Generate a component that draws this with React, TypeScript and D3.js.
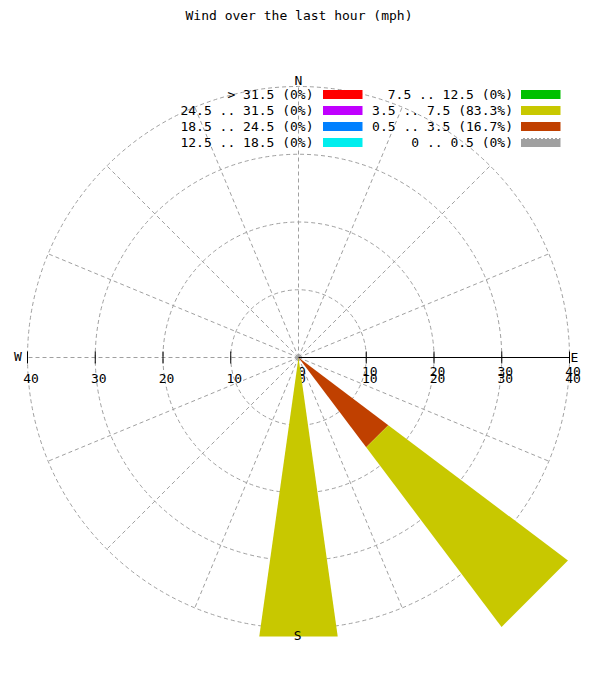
import React from "react";
import * as d3 from "d3";

// compass points, clockwise from north
const compass = ["N", "NNE", "NE", "ENE", "E", "ESE", "SE", "SSE", "S", "SSW", "SW", "WSW", "W", "WNW", "NW", "NNW"];

// speed bins shown in the key (left column first, then right column)
const binLabels = ["> 31.5", "24.5 .. 31.5", "18.5 .. 24.5", "12.5 .. 18.5", "7.5 .. 12.5", "3.5 .. 7.5", "0.5 .. 3.5", "0 .. 0.5"];
const binShares = ["0%", "0%", "0%", "0%", "0%", "83.3%", "16.7%", "0%"];
const binColors = ["#ff0000", "#c000ff", "#0080ff", "#00eeee", "#00c000", "#c8c800", "#c04000", "#a0a0a0"];

// sectors that have data
const sectorDirs = ["SE", "S"];
const speed05to35 = [16.6, 0];
const speed35to75 = [33.2, 41.6];

const radialTicks = [10, 20, 30, 40];

const W = 600;
const H = 700;
const cx = 298.5;
const cy = 357.5;
const font = "'DejaVu Sans Mono', monospace";
const grid = "#a0a0a0";

export default function App() {
  const r = d3.scaleLinear().domain([0, 40]).range([0, 271]);
  const angle = d3.scaleBand().domain(compass).range([0, 360]);
  const halfWidth = 8; // degrees each side of a sector centre

  const rows = sectorDirs.map((d, i) => ({ dir: d, low: speed05to35[i], mid: speed35to75[i] }));
  const stack = d3.stack<any>().keys(["low", "mid"])(rows);
  const stackColors = { low: binColors[6], mid: binColors[5] };

  const wedge = d3
    .lineRadial<[number, number]>()
    .angle((d) => (d[0] * Math.PI) / 180)
    .radius((d) => r(d[1]))
    .curve(d3.curveLinearClosed);

  const rad = (deg: number) => (deg * Math.PI) / 180;

  return (
    <svg width={W} height={H} style={{ position: "absolute", left: 0, top: 0, background: "#fff" }}>
      <text x={299} y={20} textAnchor="middle" fontFamily={font} fontSize={13}>
        Wind over the last hour (mph)
      </text>

      {/* grid */}
      <g transform={`translate(${cx},${cy})`} fill="none" stroke={grid} strokeDasharray="4 3">
        {radialTicks.map((t) => (
          <circle key={t} r={r(t)} />
        ))}
        {compass.map((c) => {
          const a = rad(angle(c)!);
          return <line key={c} x1={0} y1={0} x2={r(40) * Math.sin(a)} y2={-r(40) * Math.cos(a)} />;
        })}
      </g>

      {/* east axis and ticks */}
      <g transform={`translate(${cx},${cy})`} stroke="#000">
        <line x1={0} y1={0} x2={r(40)} y2={0} />
        {radialTicks.map((t) => (
          <g key={t}>
            <line x1={r(t)} x2={r(t)} y1={-6} y2={6} />
            <line x1={-r(t)} x2={-r(t)} y1={-6} y2={6} />
          </g>
        ))}
      </g>
      <g fontFamily={font} fontSize={13} textAnchor="middle">
        {radialTicks.map((t) => (
          <text key={"w" + t} x={cx - r(t) + 3.5} y={383}>{t}</text>
        ))}
        {/* the east side labels are printed twice, a few pixels apart, as in the source */}
        {[0, ...radialTicks].map((t) => (
          <g key={"e" + t}>
            <text x={cx + r(t) + 3.5} y={383}>{t}</text>
            <text x={cx + r(t) + 3.5} y={376}>{t}</text>
          </g>
        ))}
        <text x={298.3} y={85}>N</text>
        <text x={18} y={361}>W</text>
        <text x={574.3} y={361.5}>E</text>
      </g>

      {/* key */}
      <g fontFamily={font} fontSize={13}>
        {binLabels.map((lab, i) => {
          const col = Math.floor(i / 4);
          const row = i % 4;
          const y = 99 + row * 16;
          const textX = col === 0 ? 313.5 : 513;
          const boxX = col === 0 ? 323 : 521;
          return (
            <g key={lab}>
              <text x={textX} y={y} textAnchor="end">{`${lab} (${binShares[i]})`}</text>
              <rect x={boxX} y={y - 9} width={39.5} height={9} fill={binColors[i]} />
              {i === 7 && (
                <line x1={boxX} x2={boxX + 39.5} y1={y - 8.5} y2={y - 8.5} stroke="#fff" strokeDasharray="2 2" />
              )}
            </g>
          );
        })}
      </g>

      {/* sectors */}
      <g transform={`translate(${cx},${cy})`}>
        {stack.map((layer) =>
          layer.map((seg, j) => {
            if (seg[1] - seg[0] <= 0) return null;
            const a = angle(rows[j].dir)!;
            const pts: [number, number][] = [
              [a - halfWidth, seg[0]],
              [a + halfWidth, seg[0]],
              [a + halfWidth, seg[1]],
              [a - halfWidth, seg[1]],
            ];
            return <path key={layer.key + j} d={wedge(pts)!} fill={(stackColors as any)[layer.key]} />;
          })
        )}
      </g>

      <text x={297.7} y={640} textAnchor="middle" fontFamily={font} fontSize={13}>S</text>
    </svg>
  );
}
